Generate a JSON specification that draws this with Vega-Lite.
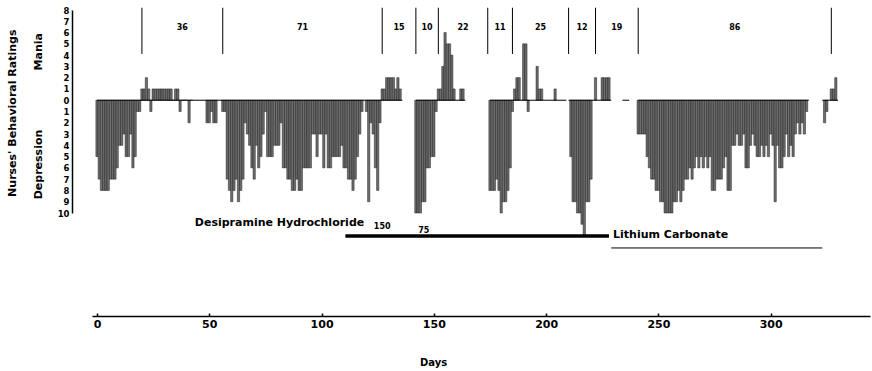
{
  "$schema": "https://vega.github.io/schema/vega-lite/v6.json",
  "width": 778,
  "height": 203,
  "autosize": {"type": "none"},
  "padding": {"left": 92, "top": 10, "right": 2, "bottom": 158},
  "background": "white",
  "config": {"view": {"stroke": null}, "font": "DejaVu Sans"},
  "datasets": {
    "ratings": [
      {"day":0,"rating":-5},{"day":1,"rating":-7},{"day":2,"rating":-8},{"day":3,"rating":-8},{"day":4,"rating":-8},{"day":5,"rating":-8},{"day":6,"rating":-7},{"day":7,"rating":-7},{"day":8,"rating":-7},{"day":9,"rating":-6},
      {"day":10,"rating":-4},{"day":11,"rating":-4},{"day":12,"rating":-3},{"day":13,"rating":-5},{"day":14,"rating":-5},{"day":15,"rating":-3},{"day":16,"rating":-6},{"day":17,"rating":-5},{"day":18,"rating":-1},{"day":19,"rating":-1},
      {"day":20,"rating":1},{"day":21,"rating":1},{"day":22,"rating":2},{"day":23,"rating":1},{"day":24,"rating":-1},{"day":25,"rating":1},{"day":26,"rating":1},{"day":27,"rating":1},{"day":28,"rating":1},{"day":29,"rating":1},
      {"day":30,"rating":1},{"day":31,"rating":1},{"day":32,"rating":1},{"day":33,"rating":1},{"day":34,"rating":0},{"day":35,"rating":1},{"day":36,"rating":1},{"day":37,"rating":-1},{"day":38,"rating":0},{"day":39,"rating":0},
      {"day":40,"rating":0},{"day":41,"rating":-2},{"day":42,"rating":0},{"day":49,"rating":-2},{"day":50,"rating":-2},{"day":51,"rating":-1},{"day":52,"rating":-2},{"day":53,"rating":-2},
      {"day":56,"rating":-1},{"day":57,"rating":-1},{"day":58,"rating":-7},{"day":59,"rating":-8},{"day":60,"rating":-9},{"day":61,"rating":-8},{"day":62,"rating":-7},{"day":63,"rating":-9},{"day":64,"rating":-8},{"day":65,"rating":-7},
      {"day":66,"rating":-2},{"day":67,"rating":-3},{"day":68,"rating":-4},{"day":69,"rating":-6},{"day":70,"rating":-7},{"day":71,"rating":-4},{"day":72,"rating":-6},{"day":73,"rating":-5},{"day":74,"rating":-3},{"day":75,"rating":-1},
      {"day":76,"rating":-5},{"day":77,"rating":-5},{"day":78,"rating":-5},{"day":79,"rating":-4},{"day":80,"rating":-4},{"day":81,"rating":-4},{"day":82,"rating":-2},{"day":83,"rating":-6},{"day":84,"rating":-6},{"day":85,"rating":-7},
      {"day":86,"rating":-7},{"day":87,"rating":-8},{"day":88,"rating":-8},{"day":89,"rating":-7},{"day":90,"rating":-8},{"day":91,"rating":-8},{"day":92,"rating":-6},{"day":93,"rating":-6},{"day":94,"rating":-6},{"day":95,"rating":-6},
      {"day":96,"rating":-3},{"day":97,"rating":-3},{"day":98,"rating":-5},{"day":99,"rating":-3},{"day":100,"rating":-3},{"day":101,"rating":-6},{"day":102,"rating":-3},{"day":103,"rating":-6},{"day":104,"rating":-6},{"day":105,"rating":-5},
      {"day":106,"rating":-5},{"day":107,"rating":-5},{"day":108,"rating":-5},{"day":109,"rating":-4},{"day":110,"rating":-6},{"day":111,"rating":-6},{"day":112,"rating":-7},{"day":113,"rating":-7},{"day":114,"rating":-8},{"day":115,"rating":-7},
      {"day":116,"rating":-5},{"day":117,"rating":-3},{"day":118,"rating":-1},{"day":120,"rating":-1},{"day":121,"rating":-9},{"day":122,"rating":-2},{"day":123,"rating":-3},{"day":124,"rating":-6},{"day":125,"rating":-8},{"day":126,"rating":-2},
      {"day":127,"rating":1},{"day":128,"rating":1},{"day":129,"rating":2},{"day":130,"rating":2},{"day":131,"rating":2},{"day":132,"rating":2},{"day":133,"rating":1},{"day":134,"rating":2},{"day":135,"rating":1},
      {"day":142,"rating":-10},{"day":143,"rating":-10},{"day":144,"rating":-10},{"day":145,"rating":-9},{"day":146,"rating":-9},{"day":147,"rating":-6},{"day":148,"rating":-6},{"day":149,"rating":-5},{"day":150,"rating":-5},{"day":151,"rating":-1},
      {"day":152,"rating":1},{"day":153,"rating":1},{"day":154,"rating":3},{"day":155,"rating":6},{"day":156,"rating":5},{"day":157,"rating":5},{"day":158,"rating":4},{"day":159,"rating":1},{"day":162,"rating":1},{"day":163,"rating":1},
      {"day":175,"rating":-8},{"day":176,"rating":-8},{"day":177,"rating":-8},{"day":178,"rating":-7},{"day":179,"rating":-8},{"day":180,"rating":-10},{"day":181,"rating":-9},{"day":182,"rating":-9},{"day":183,"rating":-8},{"day":184,"rating":-6},{"day":185,"rating":-1},
      {"day":186,"rating":1},{"day":187,"rating":2},{"day":188,"rating":2},{"day":190,"rating":5},{"day":191,"rating":5},{"day":192,"rating":-1},{"day":196,"rating":3},{"day":197,"rating":1},{"day":198,"rating":1},{"day":204,"rating":1},
      {"day":211,"rating":-5},{"day":212,"rating":-9},{"day":213,"rating":-9},{"day":214,"rating":-10},{"day":215,"rating":-10},{"day":216,"rating":-11},{"day":217,"rating":-12},{"day":218,"rating":-9},{"day":219,"rating":-9},{"day":220,"rating":-7},
      {"day":222,"rating":2},{"day":225,"rating":2},{"day":226,"rating":2},{"day":227,"rating":2},{"day":228,"rating":2},
      {"day":241,"rating":-3},{"day":242,"rating":-3},{"day":243,"rating":-3},{"day":244,"rating":-3},{"day":245,"rating":-5},{"day":246,"rating":-6},{"day":247,"rating":-7},{"day":248,"rating":-7},{"day":249,"rating":-8},{"day":250,"rating":-8},
      {"day":251,"rating":-9},{"day":252,"rating":-9},{"day":253,"rating":-10},{"day":254,"rating":-10},{"day":255,"rating":-10},{"day":256,"rating":-10},{"day":257,"rating":-9},{"day":258,"rating":-9},{"day":259,"rating":-8},{"day":260,"rating":-9},
      {"day":261,"rating":-8},{"day":262,"rating":-7},{"day":263,"rating":-7},{"day":264,"rating":-6},{"day":265,"rating":-7},{"day":266,"rating":-6},{"day":267,"rating":-5},{"day":268,"rating":-6},{"day":269,"rating":-5},{"day":270,"rating":-6},
      {"day":271,"rating":-5},{"day":272,"rating":-6},{"day":273,"rating":-5},{"day":274,"rating":-8},{"day":275,"rating":-8},{"day":276,"rating":-7},{"day":277,"rating":-7},{"day":278,"rating":-7},{"day":279,"rating":-6},{"day":280,"rating":-5},
      {"day":281,"rating":-8},{"day":282,"rating":-8},{"day":283,"rating":-4},{"day":284,"rating":-4},{"day":285,"rating":-3},{"day":286,"rating":-4},{"day":287,"rating":-4},{"day":288,"rating":-3},{"day":289,"rating":-6},{"day":290,"rating":-6},
      {"day":291,"rating":-4},{"day":292,"rating":-3},{"day":293,"rating":-4},{"day":294,"rating":-5},{"day":295,"rating":-5},{"day":296,"rating":-4},{"day":297,"rating":-5},{"day":298,"rating":-4},{"day":299,"rating":-5},{"day":300,"rating":-3},
      {"day":301,"rating":-4},{"day":302,"rating":-9},{"day":303,"rating":-4},{"day":304,"rating":-6},{"day":305,"rating":-6},{"day":306,"rating":-5},{"day":307,"rating":-3},{"day":308,"rating":-5},{"day":309,"rating":-4},{"day":310,"rating":-5},
      {"day":311,"rating":-3},{"day":312,"rating":-2},{"day":313,"rating":-3},{"day":314,"rating":-2},{"day":315,"rating":-3},{"day":316,"rating":-1},
      {"day":324,"rating":-2},{"day":325,"rating":-1},{"day":327,"rating":1},{"day":328,"rating":1},{"day":329,"rating":2}
    ],
    "baseline": [
      {"start":0,"end":136},{"start":142,"end":164},{"start":175,"end":209},{"start":210,"end":229},{"start":234,"end":237},{"start":241,"end":317},{"start":323,"end":330}
    ],
    "cycles": [
      {"day":20},{"day":56},{"day":127},{"day":142},{"day":152},{"day":174},{"day":185},{"day":210},{"day":222},{"day":241},{"day":327}
    ],
    "lengths": [
      {"mid":38,"length":"36"},{"mid":91.5,"length":"71"},{"mid":134.5,"length":"15"},{"mid":147,"length":"10"},{"mid":163,"length":"22"},
      {"mid":179.5,"length":"11"},{"mid":197.5,"length":"25"},{"mid":216,"length":"12"},{"mid":231.5,"length":"19"},{"mid":284,"length":"86"}
    ],
    "treatments": [
      {"drug":"Desipramine Hydrochloride","start":110.6,"end":228,"level":-12.05,"weight":"heavy"},
      {"drug":"Lithium Carbonate","start":229,"end":323,"level":-13.1,"weight":"light"}
    ],
    "notes": [
      {"label":"Desipramine Hydrochloride","day":119,"level":-10.9,"side":"end"},
      {"label":"Lithium Carbonate","day":229.8,"level":-11.97,"side":"start"}
    ],
    "doses": [
      {"label":"150","day":127,"level":-11.2},
      {"label":"75","day":145.5,"level":-11.6}
    ],
    "sides": [
      {"label":"Nurses' Behavioral Ratings","day":-37.5,"level":-1.15},
      {"label":"Mania","day":-26,"level":4.3},
      {"label":"Depression","day":-26,"level":-5.7}
    ]
  },
  "layer": [
    {
      "data": {"name": "ratings"},
      "mark": {"type": "bar", "width": 2.27, "fill": "#6e6e6e", "stroke": "#111", "strokeWidth": 0.45},
      "encoding": {
        "x": {"field": "day", "type": "quantitative", "scale": {"domain": [0, 342], "nice": false, "zero": false},
          "axis": {"values": [0,50,100,150,200,250,300], "tickCount": 40, "offset": 103, "grid": false, "domainColor": "black", "domainWidth": 1.5,
            "tickColor": "black", "tickSize": -3, "tickWidth": 1.5, "labelFont": "DejaVu Sans", "labelFontWeight": "bold", "labelFontSize": 11,
            "labelColor": "black", "labelPadding": 5, "title": "Days", "titleFont": "DejaVu Sans", "titleFontWeight": "bold",
            "titleFontSize": 10, "titleColor": "black", "titleX": 341, "titleY": 46, "titleBaseline": "middle"}},
        "y": {"field": "rating", "type": "quantitative", "scale": {"domain": [-10, 8], "nice": false},
          "axis": {"values": [-10,-9,-8,-7,-6,-5,-4,-3,-2,-1,0,1,2,3,4,5,6,7,8], "tickCount": 40, "labelExpr": "abs(datum.value)", "offset": 20,
            "labelOverlap": false, "ticks": false, "grid": false, "domainColor": "black", "domainWidth": 1.5, "labelFont": "DejaVu Sans",
            "labelFontWeight": "bold", "labelFontSize": 8.5, "labelColor": "black", "labelPadding": 3, "title": null}}
      }
    },
    {
      "data": {"name": "baseline"},
      "mark": {"type": "rule", "color": "black", "strokeWidth": 1},
      "encoding": {
        "x": {"field": "start", "type": "quantitative"},
        "x2": {"field": "end"},
        "y": {"datum": 0, "type": "quantitative"}
      }
    },
    {
      "data": {"name": "cycles"},
      "mark": {"type": "rule", "color": "black", "strokeWidth": 1},
      "encoding": {
        "x": {"field": "day", "type": "quantitative"},
        "y": {"datum": 4.1, "type": "quantitative"},
        "y2": {"datum": 8.2}
      }
    },
    {
      "data": {"name": "lengths"},
      "mark": {"type": "text", "font": "DejaVu Sans", "fontWeight": "bold", "fontSize": 8, "color": "black", "baseline": "middle"},
      "encoding": {
        "x": {"field": "mid", "type": "quantitative"},
        "y": {"datum": 6.4, "type": "quantitative"},
        "text": {"field": "length"}
      }
    },
    {
      "data": {"name": "treatments"},
      "mark": {"type": "rule", "color": "black"},
      "encoding": {
        "x": {"field": "start", "type": "quantitative"},
        "x2": {"field": "end"},
        "y": {"field": "level", "type": "quantitative"},
        "strokeWidth": {"field": "weight", "type": "nominal", "scale": {"domain": ["heavy", "light"], "range": [3.5, 1]}, "legend": null}
      }
    },
    {
      "data": {"name": "notes"},
      "transform": [{"filter": "datum.side == 'end'"}],
      "mark": {"type": "text", "font": "DejaVu Sans", "fontWeight": "bold", "fontSize": 11, "color": "black", "baseline": "middle", "align": "right"},
      "encoding": {
        "x": {"field": "day", "type": "quantitative"},
        "y": {"field": "level", "type": "quantitative"},
        "text": {"field": "label"}
      }
    },
    {
      "data": {"name": "notes"},
      "transform": [{"filter": "datum.side == 'start'"}],
      "mark": {"type": "text", "font": "DejaVu Sans", "fontWeight": "bold", "fontSize": 11, "color": "black", "baseline": "middle", "align": "left"},
      "encoding": {
        "x": {"field": "day", "type": "quantitative"},
        "y": {"field": "level", "type": "quantitative"},
        "text": {"field": "label"}
      }
    },
    {
      "data": {"name": "doses"},
      "mark": {"type": "text", "font": "DejaVu Sans", "fontWeight": "bold", "fontSize": 8, "color": "black", "baseline": "middle", "align": "center"},
      "encoding": {
        "x": {"field": "day", "type": "quantitative"},
        "y": {"field": "level", "type": "quantitative"},
        "text": {"field": "label"}
      }
    },
    {
      "data": {"name": "sides"},
      "mark": {"type": "text", "font": "DejaVu Sans", "fontWeight": "bold", "fontSize": 11, "color": "black", "angle": 270, "baseline": "middle", "align": "center"},
      "encoding": {
        "x": {"field": "day", "type": "quantitative"},
        "y": {"field": "level", "type": "quantitative"},
        "text": {"field": "label"}
      }
    }
  ]
}
